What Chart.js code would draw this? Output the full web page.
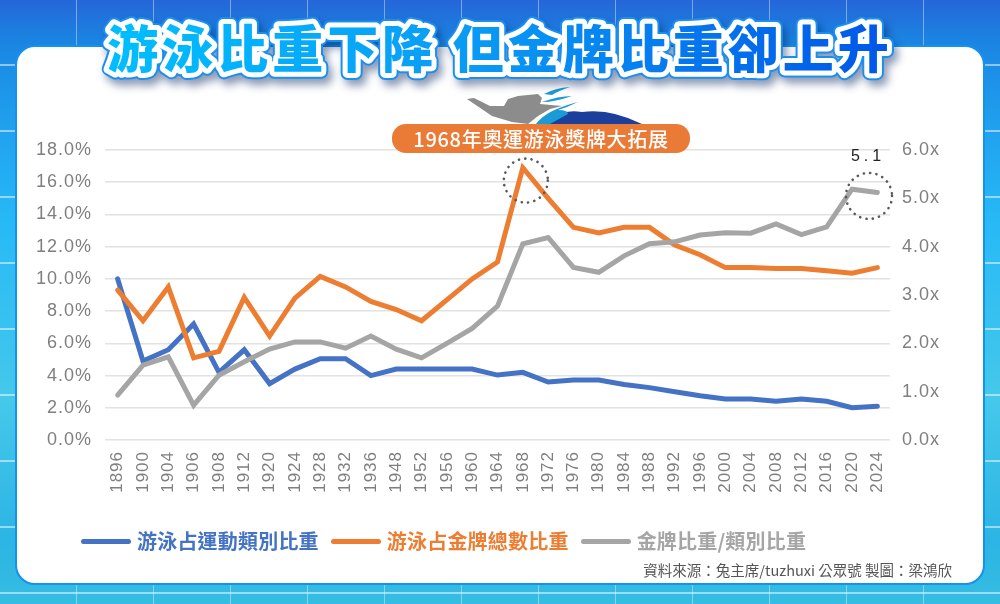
<!DOCTYPE html>
<html lang="zh-Hant">
<head>
<meta charset="utf-8">
<title>游泳比重下降 但金牌比重卻上升</title>
<script src="https://cdn.jsdelivr.net/npm/chart.js@4"></script>
<style>
    html, body { margin: 0; padding: 0; }
    body {
        position: relative; width: 1000px; height: 604px; overflow: hidden;
        font-family: "Noto Sans CJK TC", sans-serif;
        background:
            repeating-linear-gradient(90deg, rgba(255,255,255,0) 0 76px, rgba(255,255,255,.4) 76px 77px),
            repeating-linear-gradient(180deg, rgba(255,255,255,0) 0 64px, rgba(255,255,255,.5) 64px 66px),
            linear-gradient(180deg, #2566d8 0, #1b84e2 40px, #1f9cec 110px, #27b9f6 220px, #45c8ea 400px, #2cb4e4 540px, #35bde2 604px);
    }
    #card {
        position: absolute; left: 15px; top: 45px; width: 966px; height: 536px;
        background: #fff; border: 2px solid #1591ee; border-radius: 20px;
    }
    #myChart { position: absolute; left: 0; top: 0; }
    #titleSvg { position: absolute; left: 0; top: 0; }
    #titleSvg text {
        font-family: "Noto Sans CJK TC", sans-serif; font-size: 51px; font-weight: 900;
        letter-spacing: 4px; text-anchor: middle; stroke-linejoin: round; paint-order: stroke;
    }
    #titleEdge { fill: #1a8ff0; stroke: #1a8ff0; stroke-width: 14px; filter: drop-shadow(4px 6px 4px rgba(0,30,90,.45)); }
    #titleBack { fill: #fff; stroke: #fff; stroke-width: 10px; }
    #swimmer { position: absolute; left: 450px; top: 80px; }
    #pill {
        position: absolute; left: 392px; top: 124px; width: 298px; height: 29px;
        background: #e97b36; border-radius: 14px; color: #fff;
        font-size: 20px; font-weight: 500; letter-spacing: .7px; line-height: 29px; text-align: center;
    }
    #legend { position: absolute; left: 81px; top: 526px; display: flex; }
    .legend-item { display: flex; align-items: center; margin-right: 12px; font-size: 20px; font-weight: 700; letter-spacing: .2px; line-height: 30px; }
    .legend-item i { display: block; width: 50px; height: 5px; border-radius: 3px; margin-right: 6px; }
    #source {
        position: absolute; right: 48px; top: 560px;
        font-size: 14.5px; color: #555; line-height: 20px;
    }
</style>
</head>
<body>
<div id="card"></div>
<canvas id="myChart" width="1000" height="604"></canvas>
<svg id="swimmer" width="200" height="44" viewBox="0 0 200 44">
    <path d="M96 44 Q110 28 132 32 Q160 28 192 44 Z" fill="#1c3f9c"/>
    <path d="M17 19 L24 18 L40 26 L54 26 L58 19 L68 16 L88 14 L92 18 L90 24 L112 26 L100 29 L88 36 L78 44 L62 42 L42 36 Z" fill="#8c8c8c"/>
    <path d="M94 14 Q105 8 120 7 Q108 11 102 15 Z M92 22 Q108 16 122 16 Q105 22 92 22 Z M86 44 Q96 30 128 22 Q118 27 108 30 Q118 30 118 34 L100 44 Z" fill="#1a9ad6"/>
</svg>
<div id="pill">1968年奧運游泳獎牌大拓展</div>
<svg id="titleSvg" width="1000" height="100">
    <defs>
        <linearGradient id="titleFill" gradientUnits="userSpaceOnUse" x1="120" y1="0" x2="880" y2="0">
            <stop offset="0" stop-color="#00bdff"/>
            <stop offset=".45" stop-color="#0a9cf5"/>
            <stop offset="1" stop-color="#0058e8"/>
        </linearGradient>
    </defs>
    <text id="titleEdge" x="500" y="68">游泳比重下降 但金牌比重卻上升</text>
    <text id="titleBack" x="500" y="68">游泳比重下降 但金牌比重卻上升</text>
    <text x="500" y="68" fill="url(#titleFill)">游泳比重下降 但金牌比重卻上升</text>
</svg>
<div id="legend"></div>
<div id="source">資料來源：兔主席/tuzhuxi 公眾號 製圖：梁鴻欣</div>

<script>
    // Data
    var years = ['1896', '1900', '1904', '1906', '1908', '1912', '1920', '1924', '1928', '1932', '1936',
        '1948', '1952', '1956', '1960', '1964', '1968', '1972', '1976', '1980', '1984', '1988', '1992',
        '1996', '2000', '2004', '2008', '2012', '2016', '2020', '2024'];
    var eventShare = [10.0, 4.9, 5.6, 7.2, 4.2, 5.6, 3.5, 4.4, 5.05, 5.05, 4.0,
        4.4, 4.4, 4.4, 4.4, 4.03, 4.2, 3.6, 3.72, 3.72, 3.45, 3.25, 3.0,
        2.75, 2.55, 2.55, 2.4, 2.55, 2.4, 2.0, 2.1];
    var medalShare = [9.3, 7.4, 9.5, 5.1, 5.5, 8.85, 6.45, 8.8, 10.15, 9.5, 8.6,
        8.1, 7.4, 8.7, 10.0, 11.05, 16.9, 15.0, 13.2, 12.85, 13.2, 13.2, 12.1,
        11.5, 10.7, 10.7, 10.65, 10.65, 10.5, 10.35, 10.7];
    var ratio = [0.93, 1.55, 1.72, 0.72, 1.34, 1.62, 1.88, 2.03, 2.03, 1.9, 2.15,
        1.88, 1.7, 2.0, 2.31, 2.77, 4.06, 4.19, 3.57, 3.47, 3.81, 4.06, 4.1,
        4.24, 4.29, 4.28, 4.47, 4.25, 4.41, 5.19, 5.12];
    var seriesNames = ['游泳占運動類別比重', '游泳占金牌總數比重', '金牌比重/類別比重'];
    var seriesColors = ['#4472c4', '#ed7d31', '#a5a5a5'];
    var calloutText = '5.1';

    var tickFont = { family: 'Liberation Sans', size: 18 };
    var tickColor = '#7f7f7f';

    // Letter spacing for the tick labels, dotted circles and the 5.1 note
    var extras = {
        id: 'extras',
        beforeDraw: function (chart) {
            chart.ctx.letterSpacing = '1px';
        },
        afterDatasetsDraw: function (chart) {
            var ctx = chart.ctx;
            var x = chart.scales.x;
            var yLeft = chart.scales.y;
            var yRight = chart.scales.y1;

            function ring(cx, cy, r) {
                ctx.save();
                ctx.beginPath();
                ctx.arc(cx, cy, r, 0, Math.PI * 2);
                ctx.strokeStyle = '#595959';
                ctx.lineWidth = 2.6;
                ctx.lineCap = 'round';
                ctx.setLineDash([0.1, 6.3]);
                ctx.stroke();
                ctx.restore();
            }

            ring(x.getPixelForValue(years.indexOf('1968')) + 3, yLeft.getPixelForValue(16.1), 22);
            var rx = x.getPixelForValue(years.indexOf('2020')) + 17;
            ring(rx, yRight.getPixelForValue(5.05), 23);

            ctx.save();
            ctx.fillStyle = '#222';
            ctx.font = '16px "Liberation Sans"';
            ctx.letterSpacing = '4px';
            ctx.textAlign = 'center';
            ctx.textBaseline = 'middle';
            ctx.fillText(calloutText, rx - 1, 157);
            ctx.restore();
        }
    };

    var ctx = document.getElementById('myChart').getContext('2d');
    var myChart = new Chart(ctx, {
        type: 'line',
        data: {
            labels: years,
            datasets: [
                { label: seriesNames[0], data: eventShare, yAxisID: 'y', borderColor: seriesColors[0], order: 3 },
                { label: seriesNames[1], data: medalShare, yAxisID: 'y', borderColor: seriesColors[1], order: 2 },
                { label: seriesNames[2], data: ratio, yAxisID: 'y1', borderColor: seriesColors[2], order: 1 }
            ]
        },
        options: {
            responsive: false,
            animation: false,
            layout: { padding: { top: 150 } },
            elements: {
                line: { borderWidth: 5, tension: 0, borderCapStyle: 'round', borderJoinStyle: 'miter', fill: false },
                point: { radius: 0 }
            },
            plugins: { legend: { display: false }, tooltip: { enabled: false } },
            scales: {
                x: {
                    offset: true,
                    grid: { display: false, drawTicks: false },
                    border: { display: false },
                    ticks: { autoSkip: false, minRotation: 90, maxRotation: 90, padding: 11, font: { family: 'Liberation Sans', size: 17 }, color: tickColor },
                    afterFit: function (scale) { scale.height = 164; }
                },
                y: {
                    position: 'left',
                    min: 0,
                    max: 18,
                    grid: { color: '#e2e2e2', lineWidth: 1.5, drawTicks: false },
                    border: { display: false },
                    ticks: {
                        stepSize: 2, padding: 13, font: tickFont, color: tickColor,
                        callback: function (v) { return v.toFixed(1) + '%'; }
                    },
                    afterFit: function (scale) { scale.width = 105; }
                },
                y1: {
                    position: 'right',
                    min: 0,
                    max: 6,
                    grid: { display: false, drawTicks: false },
                    border: { display: false },
                    ticks: {
                        stepSize: 1, padding: 12, font: tickFont, color: tickColor,
                        callback: function (v) { return v.toFixed(1) + 'x'; }
                    },
                    afterFit: function (scale) { scale.width = 110; }
                }
            }
        },
        plugins: [extras]
    });

    // Legend built from the chart's datasets
    var legend = document.getElementById('legend');
    myChart.data.datasets.forEach(function (ds) {
        var item = document.createElement('div');
        item.className = 'legend-item';
        item.style.color = ds.borderColor;
        item.innerHTML = '<i style="background:' + ds.borderColor + '"></i>' + ds.label;
        legend.appendChild(item);
    });
</script>
</body>
</html>
